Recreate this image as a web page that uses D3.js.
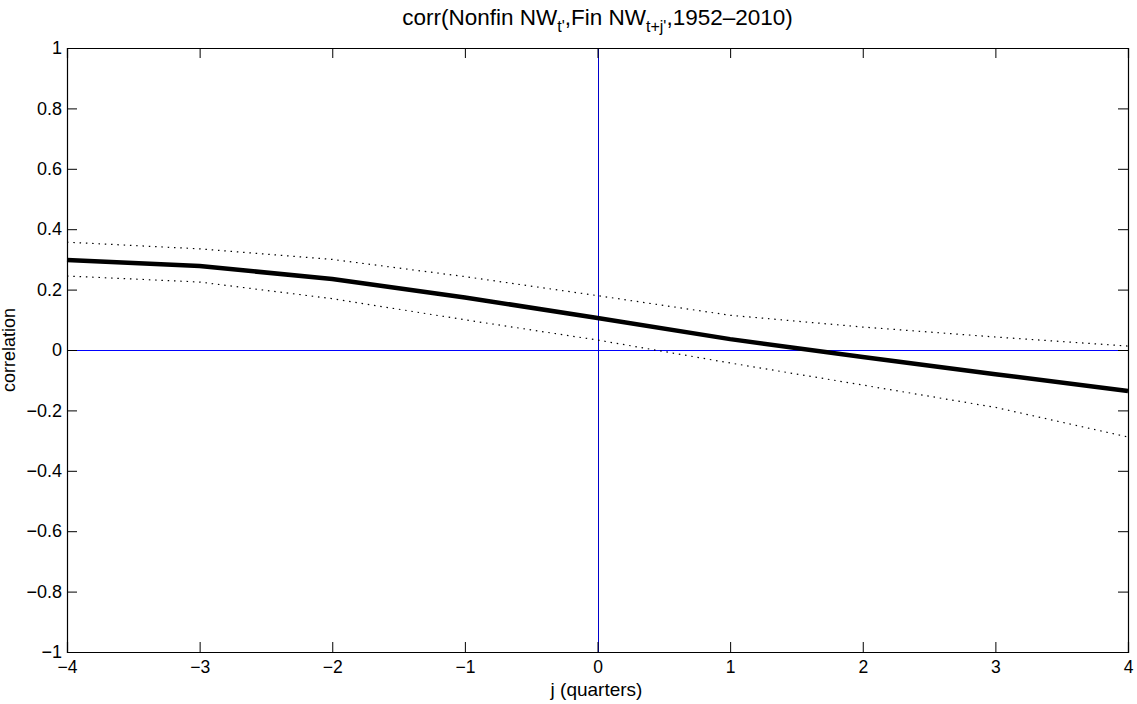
<!DOCTYPE html>
<html><head><meta charset="utf-8">
<script src="https://d3js.org/d3.v7.min.js"></script>
<style>body{margin:0;background:#fff}svg{display:block}text{font-family:"Liberation Sans",Arial,sans-serif}</style>
</head><body>
<script>
const lags = [-4,-3,-2,-1,0,1,2,3,4];
const corr = [0.298,0.278,0.235,0.174,0.106,0.036,-0.023,-0.080,-0.136];
const upper = [0.357,0.335,0.300,0.243,0.180,0.115,0.076,0.043,0.013];
const lower = [0.245,0.225,0.170,0.100,0.033,-0.043,-0.116,-0.190,-0.288];
const xTicks = [-4,-3,-2,-1,0,1,2,3,4];
const yTicks = [-1,-0.8,-0.6,-0.4,-0.2,0,0.2,0.4,0.6,0.8,1];

const W=1137,H=704, L=67,R=1128,T=48,B=652;
const svg=d3.select("body").append("svg").attr("width",W).attr("height",H);
const x=d3.scaleLinear().domain([-4,4]).range([L,R]);
const y=d3.scaleLinear().domain([-1,1]).range([B,T]);
const fmt=d=>d===0?"0":String(d).replace("-","\u2212");
const FF="'Liberation Sans',Arial,sans-serif";

// reference lines
svg.append("line").attr("x1",x(-4)).attr("x2",x(4)).attr("y1",Math.round(y(0))+0.5).attr("y2",Math.round(y(0))+0.5).attr("stroke","#0000ff").attr("stroke-width",1);
svg.append("line").attr("x1",Math.round(x(0))+0.5).attr("x2",Math.round(x(0))+0.5).attr("y1",y(-1)).attr("y2",y(1)).attr("stroke","#0000cc").attr("stroke-width",1);

const line=d3.line().x((d,i)=>x(lags[i])).y(d=>y(d));
svg.append("path").attr("d",line(upper)).attr("fill","none").attr("stroke","#000").attr("stroke-width",1.2).attr("stroke-dasharray","1.5,4.8");
svg.append("path").attr("d",line(lower)).attr("fill","none").attr("stroke","#000").attr("stroke-width",1.2).attr("stroke-dasharray","1.5,4.8");
svg.append("path").attr("d",line(corr)).attr("fill","none").attr("stroke","#000").attr("stroke-width",4.5).attr("stroke-linejoin","round");

// axes (ticks inward, all sides)
const tl=10;
const gB=svg.append("g").attr("transform",`translate(0,${B})`).call(d3.axisBottom(x).tickValues(xTicks).tickSize(-tl).tickPadding(9).tickFormat(fmt));
const gT=svg.append("g").attr("transform",`translate(0,${T})`).call(d3.axisTop(x).tickValues(xTicks).tickSize(-tl).tickFormat(""));
const gL=svg.append("g").attr("transform",`translate(${L},0)`).call(d3.axisLeft(y).tickValues(yTicks).tickSize(-tl).tickPadding(5).tickFormat(fmt));
const gR=svg.append("g").attr("transform",`translate(${R},0)`).call(d3.axisRight(y).tickValues(yTicks).tickSize(-tl).tickFormat(""));
[gB,gT,gL,gR].forEach(g=>{
  g.select(".domain").attr("stroke","#000").attr("stroke-width",1.2);
  g.selectAll(".tick line").attr("stroke","#000").attr("stroke-width",1);
  g.selectAll("text").attr("fill","#000").style("font-size","18px").style("font-family",FF);
});
gB.selectAll("text").style("font-size","17.5px");

// title
const title=svg.append("text").attr("x",(L+R)/2).attr("y",25).attr("text-anchor","middle").style("font-size","22.5px").style("font-family",FF).attr("fill","#000");
title.append("tspan").text("corr(Nonfin NW");
title.append("tspan").attr("dy",7).style("font-size","16px").text("t'");
title.append("tspan").attr("dy",-7).text(",Fin NW");
title.append("tspan").attr("dy",7).style("font-size","16px").text("t+j'");
title.append("tspan").attr("dy",-7).text(",1952\u20132010)");

// x label
svg.append("text").attr("x",(L+R)/2-1).attr("y",696).attr("text-anchor","middle").style("font-size","19px").style("font-family",FF).attr("fill","#000").text("j (quarters)");
// y label
svg.append("text").attr("transform",`translate(15,${(T+B)/2}) rotate(-90)`).attr("text-anchor","middle").style("font-size","18px").style("font-family",FF).attr("fill","#000").text("correlation");
</script>
</body></html>
